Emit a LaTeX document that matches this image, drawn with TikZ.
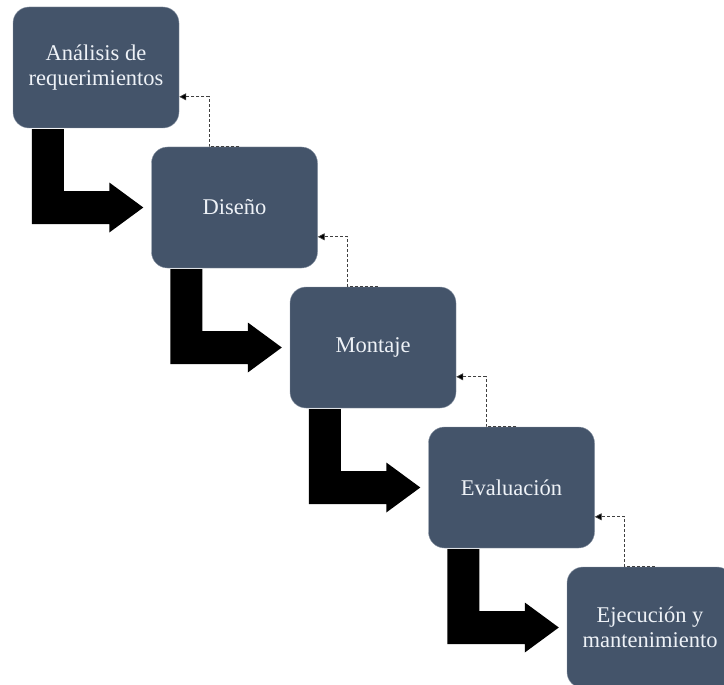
\documentclass[tikz,border=0pt]{standalone}
\usepackage{fontspec}
\setmainfont{Liberation Serif}
\usetikzlibrary{calc,arrows.meta}
\definecolor{boxfill}{HTML}{44546A}
\definecolor{boxline}{HTML}{8C97A6}
\definecolor{boxtext}{HTML}{EEF2F7}
\tikzset{
  stepbox/.style={rectangle, rounded corners=16pt, minimum width=166pt, minimum height=121pt,
    fill=boxfill, draw=boxline, line width=0.4pt, text=boxtext, align=center, inner sep=2pt,
    font=\fontsize{22.5}{25}\selectfont},
  backconn/.style={draw=black!75, line width=0.7pt, densely dashed,
    -{Triangle[length=7pt,width=7pt,fill=black]}},
}
\newcommand{\bentarrow}[2]{%
  \path let \p1=(#1.south west), \p2=(#2.west) in
    [fill=black] (\x1+19pt,\y1-1pt) -- (\x1+51pt,\y1-1pt) -- (\x1+51pt,\y2+16.5pt)
    -- (\x2-42pt,\y2+16.5pt) -- (\x2-42pt,\y2+25pt) -- (\x2-8pt,\y2)
    -- (\x2-42pt,\y2-25pt) -- (\x2-42pt,\y2-16.5pt) -- (\x1+19pt,\y2-16.5pt) -- cycle;}
\newcommand{\backlink}[2]{%
  \draw[backconn] ($(#2.north west)+(88,0)$) -- ($(#2.north west)+(58,0)$)
    |- ($(#1.north east)+(0,90)$);}
\begin{document}
\begin{tikzpicture}[x=1pt,y=-1pt]
\useasboundingbox (0,0) rectangle (724,685);
\clip (0,0) rectangle (724,685);
\node[stepbox] (s1) at (96,67.5) {Análisis de\\requerimientos};
\node[stepbox] (s2) at (234.5,207.5) {Diseño};
\node[stepbox] (s3) at (373,347.5) {Montaje};
\node[stepbox] (s4) at (511.5,487.5) {Evaluación};
\node[stepbox] (s5) at (650,627.5) {Ejecución y\\mantenimiento};
\bentarrow{s1}{s2}
\bentarrow{s2}{s3}
\bentarrow{s3}{s4}
\bentarrow{s4}{s5}
\backlink{s1}{s2}
\backlink{s2}{s3}
\backlink{s3}{s4}
\backlink{s4}{s5}
\end{tikzpicture}
\end{document}
